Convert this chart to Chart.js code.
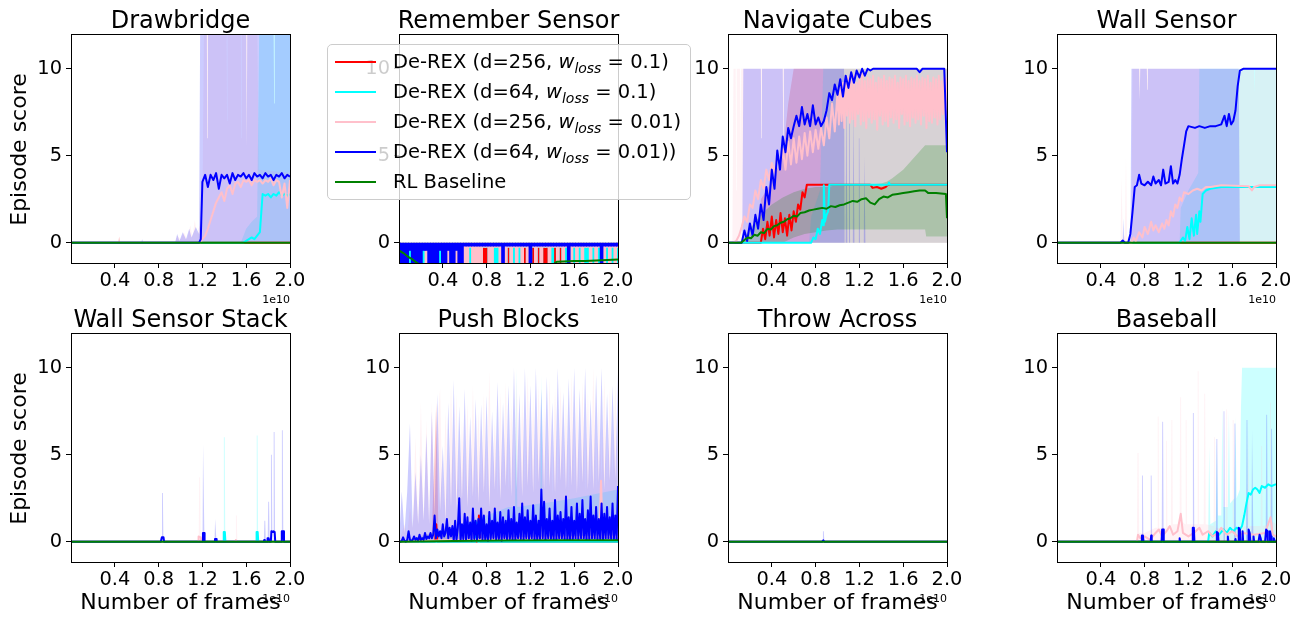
<!DOCTYPE html>
<html>
<head>
<meta charset="utf-8">
<script src="https://cdn.jsdelivr.net/npm/chart.js@4.4.0/dist/chart.umd.min.js"></script>
<style>
  html, body { margin: 0; padding: 0; background: #fff; overflow: hidden; }
  body { width: 1304px; height: 619px; position: relative; font-family: 'DejaVu Sans', sans-serif; }
  canvas { position: absolute; }
  #legend {
    position: absolute; left: 327px; top: 44px; width: 364px; height: 156px;
    box-sizing: border-box; border: 1px solid #ccc; border-radius: 5px;
    background: rgba(255, 255, 255, 0.8); z-index: 10;
    font-size: 19.5px; color: #000;
  }
  #legend .row { position: absolute; left: 0; height: 30px; line-height: 30px; white-space: nowrap; }
  #legend .key { position: absolute; left: 7px; top: 14px; width: 41px; height: 2px; }
  #legend .lbl { position: absolute; left: 65px; }
  #legend i { font-style: italic; }
  #legend sub { font-style: italic; font-size: 14px; vertical-align: -5px; line-height: 0; }
</style>
</head>
<body>
<div id="legend">
  <div class="row" style="top:2px"><span class="key" style="background:#ff0000"></span><span class="lbl">De-REX (d=256, <i>w</i><sub>loss</sub> = 0.1)</span></div>
  <div class="row" style="top:32px"><span class="key" style="background:#00ffff"></span><span class="lbl">De-REX (d=64, <i>w</i><sub>loss</sub> = 0.1)</span></div>
  <div class="row" style="top:62px"><span class="key" style="background:#ffc0cb"></span><span class="lbl">De-REX (d=256, <i>w</i><sub>loss</sub> = 0.01)</span></div>
  <div class="row" style="top:92px"><span class="key" style="background:#0000ff"></span><span class="lbl">De-REX (d=64, <i>w</i><sub>loss</sub> = 0.01))</span></div>
  <div class="row" style="top:122px"><span class="key" style="background:#008000"></span><span class="lbl">RL Baseline</span></div>
</div>
<script>
const FONT = "'DejaVu Sans', sans-serif";
const STEP = 0.025;   // spacing of the dense value lists, in units of 1e10 frames
const FINE = 0.0125;  // spacing for the noisiest stretches

// dense lists start at x0 and advance by a fixed step
function run(x0, ys, step = STEP) {
  return ys.map((y, i) => [+(x0 + i * step).toFixed(4), y]);
}

const xTicks = [0.4, 0.8, 1.2, 1.6, 2.0];
const yTicks = [0, 5, 10];
const Y_MIN = -1.17, Y_MAX = 12;

const RED = '#ff0000', CYAN = '#00ffff', PINK = '#ffc0cb', BLUE = '#0000ff', GREEN = '#008000';

const flat = [[0, 0], [2, 0]];

// ---- Drawbridge
const dbRedBand = [[0,0],[0.43,0],[0.44,0.35],[0.45,0],[2,0]];
const dbCyanRise = [0.1,0.2,0.3,0.2,0.4,0.6,2.8,2.7,2.8,2.6,2.8,2.7,2.9,2.7,2.8,2.7,2.8];
const dbCyanMean = [[0,0],[1.575,0], ...run(1.6, dbCyanRise)];
const dbCyanBand = [[0,0],[1.55,0],[1.6,0.8],[1.65,1.2],[1.7,1.5],[1.72,13],[2,13]];
const dbPinkRise = [0.2,0.4,0.8,1.3,1.8,2.3,2.6,2.9,2.4,3.1,3.3,2.8,3.4,3.5,3.2,3.6,3.5,3.6,3.3,3.6,3.5,3.6,3.4,3.6,3.5,3.7,3.3,3.6,3.5,2.6,3.4,2.0,3.6];
const dbPinkMean = [[0,0],[1.18,0], ...run(1.2, dbPinkRise)];
const dbPinkBand = [[0,0],[0.43,0],[0.44,0.35],[0.45,0],[0.95,0],[0.97,0.4],[1.0,0.2],[1.03,0.6],[1.06,0.2],[1.09,1.0],[1.11,0.3],[1.13,1.3],[1.15,0.5],[1.17,0.9],[1.2,1.2],[1.215,13],[1.42,13],[1.425,7],[1.43,13],[1.55,13],[1.555,6],[1.56,13],[1.7,13],[1.715,4.2],[2,4.0]];
const dbBlueFlat = [3.5,3.9,3.2,3.9,3.6,4.0,3.1,3.9,3.7,3.9,3.4,4.0,3.6,3.9,3.8,4.0,3.7,3.9,3.6,4.0,3.8,3.9,3.7,4.0,3.8,3.9,3.6,3.9,3.8,4.0,3.7,3.9,3.8];
const dbBlueMean = [[0,0],[1.17,0],[1.185,0.2], ...run(1.2, dbBlueFlat)];
const dbBlueBand = [[0,0],[0.64,0],[0.65,0.2],[0.66,0],[0.95,0],[0.97,0.5],[0.99,0.1],[1.02,0.6],[1.05,0.2],[1.08,0.8],[1.1,0.3],[1.14,0.9],[1.17,0.5],[1.18,13],[1.24,13],[1.245,6],[1.25,13],[1.6,13],[1.605,5.5],[1.61,13],[1.85,13],[1.855,8],[1.86,13],[2,13]];

// ---- Remember Sensor (all scores at or below zero, one column per STEP)
const L = -1.3, T = -0.27, H = -0.2, M = -0.45;
const rsRedY = [
  L,L,L,L,L,L,L,L,L,L, L,L,L,L,L,L,L,L,L,L,
  L,L,L,L,L,L,L,L,L,L, L,L,L,L,L,L,L,L,L,L,
  L,L,L,L,L,L,L,L,L,L, L,L,L,L,L,L,L,L,L,L,
  L,L,L,L,L,L,L,L,L,L, L,L,L,L,L,L,L,L,L,L, L];
const rsCyanY = [
  L,L,L,L,L,L,L,L,L,L, L,L,L,L,L,L,L,L,L,L,
  L,L,L,L,L,L,L,L,L,L, L,T,T,L,L,L,L,L,L,L,
  T,L,L,L,L,L,T,L,L,T, L,T,L,T,T,L,L,T,L,T,
  L,L,L,L,L,L,L,L,L,L, L,L,L,L,L,L,L,L,L,L, L];
const rsPinkY = [
  T,T,T,T,T,T,T,T,T,T, L,T,T,T,T,T,T,T,L,T,
  T,L,T,T,L,L,T,L,L,L, L,T,T,L,L,T,T,L,T,L,
  T,L,T,L,T,L,T,L,T,T, L,T,L,T,T,L,T,T,L,T,
  L,T,T,L,T,L,T,L,T,T, L,T,L,T,T,L,T,L,T,L, T];
const rsBlueY = [
  L,L,L,L,M,L,L,L,L,M, M,L,L,L,L,M,L,L,M,L,
  L,M,L,L,H,H,H,H,H,H, H,H,H,H,H,H,H,H,L,H,
  H,H,H,H,H,H,H,H,L,H, H,H,H,H,H,H,H,H,H,H,
  H,H,L,H,H,H,H,H,H,H, H,H,H,H,L,H,H,H,H,H, H];
const rsGreenMean = [[0,-0.45],[0.04,-0.6],[0.08,-0.8],[0.12,-0.95],[0.16,-1.15],[0.2,-1.3],[1.4,-1.3],[1.44,-1.1],[1.5,-1.08],[1.6,-1.05],[1.7,-1.06],[1.8,-1.02],[1.9,-1.0],[2.0,-0.97]];

// ---- Navigate Cubes
const ncRedMean = [[0,0],[0.3,0],[0.32,0.8],[0.34,0.2],[0.36,1.2],[0.38,0.4],[0.4,1.5],[0.42,0.3],[0.44,1.3],[0.46,0.5],[0.48,1.7],[0.5,0.6],[0.52,1.4],[0.54,0.4],[0.56,1.6],[0.58,0.7],[0.6,1.8],[0.62,1.2],[0.64,2.2],[0.66,1.9],[0.68,2.9],[0.7,2.6],[0.72,3.33],[1.3,3.33],[1.32,3.15],[1.36,3.2],[1.4,3.1],[1.44,3.2],[1.46,3.33],[2,3.33]];
const ncRedBand = [[0,0],[0.29,0],[0.3,2.5],[0.4,3.5],[0.5,5],[0.55,8],[0.6,10],[2,10]];
const ncCyanMean = [[0,0],[0.76,0],[0.78,0.3],[0.8,0.2],[0.82,0.8],[0.84,0.5],[0.86,1.3],[0.87,1.0],[0.875,3.3],[0.885,1.2],[0.9,1.6],[0.915,1.8],[0.925,3.33],[1.46,3.33],[1.47,3.45],[1.48,3.33],[2,3.33]];
const ncCyanBand = [[0,0],[0.74,0],[0.76,1.5],[0.84,3],[0.87,10],[2,10]];
const ncPinkEarly = [
  0,0,0,0.1,0.4,0.9,1.5,1.2,2.2,2.0, 3.0,2.5,3.6,3.1,4.2,3.6,4.6,4.0,5.0,4.3,
  5.4,4.2,5.8,4.5,6.0,4.6,6.1,4.8,6.3,5.0, 6.4,5.2,6.5,5.4,6.6,5.6,7.2,6.0,8.0,6.4,
  8.6];
const ncPinkLate = [
  6.8,9.0,7.0,9.2,6.6,9.4,7.3,9.5,6.9,9.3, 7.1,9.6,6.7,9.2,7.4,9.5,6.8,9.7,7.0,9.3,
  6.6,9.5,7.2,9.4,6.9,9.6,7.1,9.2,6.5,9.5, 7.3,9.4,6.8,9.6,7.0,9.3,6.7,9.5,7.2,9.4,
  6.9,9.6,7.1,9.2,6.6,9.5,7.4,9.4,6.8,9.6, 7.0,9.3,6.7,9.5,7.2,9.4,6.9,9.6,7.1,9.3,
  6.8,9.5,7.3,9.4,6.6,9.6,7.0,9.2,6.9,9.5, 7.2,9.4,6.8,9.6,7.1,9.3,7.4,9.5,7.0,9.5];
const ncPinkMean = [...run(0, ncPinkEarly), ...run(1.0125, ncPinkLate, FINE)];
const ncPinkBand = [[0,0],[0.04,0],[0.05,10],[0.07,10],[0.075,3],[0.08,10],[0.11,10],[0.115,5],[0.12,10],[2,10]];
const ncBlueY = [
  0,0,0,0,0,0,0.7,0.1,1.1,0.4, 1.6,0.8,2.2,1.3,3.2,2.2,4.2,3.1,5.3,4.2,
  6.1,5.2,6.6,6.0,6.7,7.3,6.7,7.8,6.8,7.4, 6.7,7.9,6.8,7.2,6.7,7.0,7.6,8.6,8.2,9.1,
  8.5,9.4,8.4,9.6,8.9,9.8,9.2,9.9,9.5,10, 9.6,10,9.9,10,10,10,10,10,10,10,
  10,10,10,10,10,10,10,10,10,10, 9.8,10,10,10,10,10,10,10,10,10, 5.2];
const ncBlueBand = [[0,0],[0.13,0],[0.14,10],[0.3,10],[0.305,6],[0.31,10],[0.5,10],[0.505,6],[0.51,10],[1.06,10],[1.065,0],[1.075,0],[1.08,10],[1.085,10],[1.09,0],[1.1,0],[1.105,9],[1.11,9],[1.115,0],[1.14,0],[1.145,8],[1.15,8],[1.155,0],[1.19,0],[1.195,6],[1.2,6],[1.205,0],[1.24,0],[1.245,5],[1.25,5],[1.255,0],[2,0]];
const ncGreenMean = [[0,0],[0.12,0],[0.15,0.15],[0.18,0.3],[0.21,0.25],[0.24,0.45],[0.27,0.4],[0.3,0.6],[0.33,0.55],[0.36,0.8],[0.39,0.75],[0.42,0.95],[0.45,1.0],[0.48,1.15],[0.51,1.2],[0.54,1.35],[0.57,1.4],[0.6,1.55],[0.63,1.5],[0.66,1.7],[0.7,1.75],[0.74,1.85],[0.78,1.9],[0.82,1.95],[0.86,2.0],[0.9,1.95],[0.94,2.1],[0.98,2.05],[1.02,2.15],[1.06,2.2],[1.1,2.3],[1.14,2.4],[1.18,2.35],[1.22,2.5],[1.26,2.55],[1.3,2.3],[1.34,2.2],[1.38,2.5],[1.42,2.65],[1.46,2.6],[1.5,2.75],[1.55,2.8],[1.6,2.85],[1.65,2.9],[1.7,2.95],[1.75,3.0],[1.8,3.0],[1.83,2.85],[1.9,2.85],[1.99,2.8],[2.0,1.4]];
const ncGreenLow = [[0,0],[0.5,0],[0.6,0.3],[0.7,0.5],[0.8,0.6],[0.9,0.7],[1.0,0.75],[1.8,0.75],[1.81,0.35],[2.0,0.35]];
const ncGreenHigh = [[0,0],[0.12,0],[0.2,0.8],[0.3,1.6],[0.4,2.2],[0.5,2.6],[0.6,2.9],[0.7,3.1],[0.8,3.2],[0.9,3.2],[1.0,3.3],[1.2,3.3],[1.4,3.4],[1.45,3.5],[1.5,3.7],[1.6,4.2],[1.7,4.9],[1.8,5.6],[2.0,5.6]];

// ---- Wall Sensor
const wsCyanMean = [[0,0],[1.12,0],[1.15,0.3],[1.17,0.1],[1.19,0.9],[1.21,0.2],[1.23,1.4],[1.25,0.4],[1.27,1.6],[1.28,0.5],[1.3,1.8],[1.31,1.2],[1.33,2.8],[1.36,3.0],[1.4,3.1],[1.5,3.2],[2,3.2]];
const wsCyanBand = [[0,0],[1.12,0],[1.13,2],[1.2,3],[1.29,4],[1.3,10],[2,10]];
const wsPinkMean = [[0,0],[0.68,0],[0.7,0.3],[0.72,0.1],[0.75,0.6],[0.78,0.3],[0.8,0.9],[0.83,0.5],[0.86,1.2],[0.88,0.7],[0.9,1.0],[0.93,0.6],[0.96,1.1],[0.98,0.8],[1.0,1.3],[1.02,1.0],[1.04,1.8],[1.06,1.5],[1.08,2.2],[1.1,2.0],[1.12,2.6],[1.14,2.4],[1.16,2.9],[1.2,2.8],[1.24,3.0],[1.28,3.1],[1.32,3.0],[1.36,3.2],[1.4,3.2],[1.5,3.3],[1.75,3.25],[1.78,3.0],[1.8,3.2],[1.85,3.3],[2,3.3]];
const wsPinkBand = [[0,0],[0.58,0],[0.59,3.8],[0.6,0.2],[0.62,0.5],[0.63,4.9],[0.64,0.3],[0.68,0.4],[0.69,10],[1.8,10],[1.805,8.6],[1.81,10],[2,10]];
const wsBlueMean = [[0,0],[0.58,0],[0.6,0.12],[0.62,0],[0.65,0],[0.67,0.5],[0.69,1.8],[0.71,3.2],[0.73,3.3],[0.75,3.9],[0.77,3.4],[0.8,3.3],[0.83,3.5],[0.86,3.3],[0.88,3.8],[0.9,3.4],[0.93,3.6],[0.95,3.3],[0.97,4.2],[0.99,3.4],[1.02,3.5],[1.04,4.4],[1.06,3.4],[1.08,3.6],[1.1,3.4],[1.12,3.9],[1.14,4.8],[1.16,5.6],[1.18,6.4],[1.2,6.7],[1.26,6.6],[1.3,6.7],[1.35,6.6],[1.4,6.7],[1.45,6.7],[1.5,6.8],[1.53,7.3],[1.55,6.7],[1.57,7.4],[1.59,6.8],[1.61,7.0],[1.63,7.6],[1.65,9.0],[1.67,9.9],[1.7,10],[2,10]];
const wsBlueBand = [[0,0],[0.6,0],[0.605,1.4],[0.615,0],[0.67,0],[0.68,10],[0.75,10],[0.755,8.2],[0.76,10],[0.82,10],[0.825,8.8],[0.83,10],[1.66,10],[1.67,0],[2,0]];

// ---- Wall Sensor Stack
const wssCyanMean = [[0,0],[1.39,0],[1.395,0.55],[1.405,0.55],[1.41,0],[1.69,0],[1.695,0.55],[1.705,0.55],[1.71,0],[2,0]];
const wssCyanBand = [[0,0],[1.391,0],[1.396,6.0],[1.404,6.0],[1.409,0],[1.691,0],[1.696,6.1],[1.704,6.1],[1.709,0],[2,0]];
const wssPinkMean = [[0,0],[1.16,0],[1.165,0.3],[1.185,0.25],[1.19,0],[1.5,0],[1.505,0.1],[1.51,0],[2,0]];
const wssPinkBand = [[0,0],[1.166,0],[1.171,3.7],[1.179,3.7],[1.184,0],[1.501,0],[1.506,1.5],[1.514,1.5],[1.519,0],[2,0]];
const wssBlueMean = [[0,0],[0.82,0],[0.83,0.25],[0.845,0.25],[0.85,0],[1.2,0],[1.205,0.5],[1.215,0.5],[1.22,0],[1.31,0],[1.315,0.15],[1.325,0.15],[1.33,0],[1.76,0],[1.765,0.1],[1.77,0],[1.79,0],[1.795,0.2],[1.805,0.2],[1.81,0],[1.825,0],[1.83,0.6],[1.845,0.55],[1.85,0.6],[1.86,0.55],[1.865,0],[1.92,0],[1.925,0.6],[1.94,0.6],[1.945,0],[2,0]];
const wssBlueBand = [[0,0],[0.826,0],[0.831,2.8],[0.839,2.8],[0.844,0],[1.201,0],[1.206,5.6],[1.214,5.6],[1.219,0],[1.311,0],[1.316,1.3],[1.324,1.3],[1.329,0],[1.761,0],[1.766,1.2],[1.774,1.2],[1.779,0],[1.796,0],[1.801,2.3],[1.809,2.3],[1.814,0],[1.821,0],[1.826,5.0],[1.834,5.0],[1.839,0],[1.846,0],[1.851,6.3],[1.859,6.3],[1.864,0],[1.921,0],[1.926,6.4],[1.934,6.4],[1.939,0],[2,0]];

// ---- Push Blocks
const pbRedMean = [[0,0],[0.18,0],[0.19,0.25],[0.2,0],[0.33,0],[0.34,1.0],[0.35,0],[0.72,0],[0.73,1.5],[0.74,0],[2,0]];
const pbRedBand = [[0,0],[0.3,0.5],[0.34,8.0],[0.36,0.5],[0.72,1.0],[0.73,1.6],[0.75,1.0],[2,1.0]];
const pbCyanMean = [[0,0],[0.7,0],[0.71,1.1],[0.72,0],[2,0]];
const pbCyanBand = [[0,0],[0.5,0.8],[0.8,1.5],[1.0,2.0],[1.06,2.0],[1.07,10],[1.08,2.0],[1.29,2.2],[1.3,9.6],[1.31,2.2],[1.6,2.5],[2,3.0]];
const pbPinkMean = [[0,0],[0.5,0.1],[1.0,0.2],[1.83,0.3],[1.845,3.5],[1.86,0.3],[2,0.3]];
const pbPinkY = [
  0,0.5,1.0,0.4,2.0,0.8,6.0,1.0,8.0,1.2, 7.0,1.5,8.0,1.8,6.5,8.8,1.5,7.5,1.8,9.0,
  2.4,8.5,2.1,7.0,2.7,8.0,2.3,9.0,2.4,7.5, 3.0,8.5,2.5,9.8,3.0,7.0,2.7,8.6,3.1,9.2,
  2.9,8.0,3.3,9.4,2.8,8.2,3.0,9.6,3.2,8.4, 2.9,9.0,3.4,7.8,3.0,9.4,2.6,8.8,3.1,9.0,
  3.5,8.0,2.9,9.6,3.2,8.4,3.0,9.2,2.8,8.6, 3.3,10,3.0,8.0,3.5,9.4,3.1,8.8,3.6,9.0, 3.0];
const pbBlueY = [
  0,0,0.05,0.25,0.05,0,0.1,0.6,0.1,0.05, 0.1,0.3,0.1,0.2,0.05,0.4,0.1,0.2,0.1,0.5,
  0.15,0.3,0.2,0.5,0.2,0.4,1.5,0.2,0.7,0.3, 0.6,0.2,1.0,0.3,0.5,1.3,0.2,0.8,0.3,0.9,
  0.05,1.2,0.1,0.8,2.5,0.05,1.0,0.15,1.6,0.1, 1.4,0.2,1.1,0.05,1.9,0.15,1.2,0.1,1.3,0.2,
  1.9,0.1,1.5,0.1,1.0,0.05,1.7,0.15,1.2,0.2, 1.9,0.1,1.1,0.15,1.7,0.05,1.4,0.2,1.2,0.1,
  1.8,0.15,1.3,0.1,2.0,0.1,1.1,0.2,1.6,0.15, 2.2,0.1,1.4,0.2,1.8,0.15,1.2,0.2,2.1,0.1,
  1.5,0.1,1.2,0.15,3.0,0.2,2.3,0.1,1.3,0.2, 1.9,0.15,1.2,0.1,2.4,0.1,1.5,0.2,1.7,0.2,
  1.3,0.15,2.6,0.1,1.4,0.1,2.0,0.15,1.2,0.2, 2.2,0.15,1.6,0.2,2.4,0.2,1.3,0.1,1.8,0.15,
  2.6,0.2,1.5,0.2,2.0,0.15,1.3,0.15,2.2,0.1, 1.6,0.2,2.0,0.2,1.4,0.15,2.2,0.15,1.5,0.1, 3.2];
const pbBlueBandY = [
  0,2.9,0.5,2.9,6.8,0.8,4.0,1.0,5.0,1.2, 6.2,1.0,7.5,1.5,8.5,1.8,5.5,1.2,8.0,2.0,
  9.3,1.8,7.8,2.4,8.8,2.0,7.2,2.6,8.2,2.2, 7.9,2.8,8.4,2.0,7.5,3.0,9.2,2.4,8.0,3.2,
  9.0,2.6,10,3.0,8.5,2.6,10,3.2,9.0,2.8, 10,3.4,8.8,3.0,9.5,3.2,8.0,2.8,10,3.5,
  8.6,3.0,9.4,3.2,10,2.8,8.8,3.4,10,3.0, 8.2,3.0,9.6,3.4,10,3.0,8.5,3.5,9.0,3.6, 9.8];
const pbGreenMean = [[0,0],[0.5,0.04],[1.0,0.07],[1.5,0.08],[2.0,0.08]];

// ---- Throw Across
const taBlueMean = [[0,0],[0.86,0],[0.87,0.08],[0.88,0],[2,0]];
const taBlueBand = [[0,0],[0.862,0],[0.867,0.6],[0.875,0.6],[0.88,0],[2,0]];

// ---- Baseball
const bbCyanMean = [[0,0],[1.38,0],[1.39,0.5],[1.42,0.3],[1.45,0.6],[1.48,0.4],[1.52,0.7],[1.55,0.5],[1.58,0.8],[1.61,0.6],[1.64,0.8],[1.67,0.7],[1.69,0.9],[1.71,1.5],[1.73,2.2],[1.75,2.8],[1.77,2.7],[1.79,3.0],[1.81,3.1],[1.83,3.0],[1.85,2.8],[1.87,3.2],[1.9,3.1],[1.93,3.3],[1.96,3.2],[2,3.3]];
const bbCyanBand = [[0,0],[1.38,0],[1.39,5.5],[1.4,1.0],[1.45,1.2],[1.46,6.0],[1.47,1.5],[1.5,1.5],[1.51,7.8],[1.52,2.0],[1.56,2.0],[1.57,7.5],[1.58,2.2],[1.62,2.5],[1.63,7.2],[1.64,2.5],[1.67,3.0],[1.68,7.7],[1.69,10],[2,10]];
const bbPinkMean = [[0,0],[0.73,0],[0.74,0.4],[0.76,0.2],[0.8,0.3],[0.85,0.1],[0.9,0.5],[0.93,0.7],[0.96,0.3],[1.0,0.6],[1.03,0.9],[1.06,0.4],[1.1,0.6],[1.13,1.6],[1.15,0.5],[1.2,0.3],[1.25,0.5],[1.3,0.8],[1.33,0.4],[1.38,0.6],[1.42,0.3],[1.47,0.5],[1.5,0.8],[1.55,0.4],[1.6,0.6],[1.65,0.3],[1.7,0.5],[1.8,0.4],[1.9,0.5],[1.95,1.4],[1.97,0.4],[2,0.3]];
const bbPinkBand = [[0,0],[0.73,0],[0.735,5.1],[0.745,5.1],[0.75,0.5],[0.8,0.5],[0.9,0.8],[0.915,0.8],[0.92,7.2],[0.928,7.2],[0.933,0.8],[0.99,0.8],[0.995,5.8],[1.003,5.8],[1.008,0.9],[1.04,0.9],[1.045,7.0],[1.053,7.0],[1.058,1.0],[1.12,1.0],[1.125,8.3],[1.133,8.3],[1.138,1.2],[1.17,1.0],[1.175,7.0],[1.183,7.0],[1.188,1.0],[1.28,1.0],[1.285,9.8],[1.293,9.8],[1.298,1.0],[1.34,1.0],[1.345,8.5],[1.353,8.5],[1.358,1.0],[1.43,0.9],[1.435,6.0],[1.443,6.0],[1.448,0.8],[1.54,0.8],[1.545,7.6],[1.553,7.6],[1.558,0.8],[1.6,0.8],[1.605,7.0],[1.613,7.0],[1.618,0.8],[1.74,0.9],[1.745,6.8],[1.753,6.8],[1.758,0.9],[1.86,0.9],[1.865,5.5],[1.873,5.5],[1.878,0.9],[1.94,1.0],[1.945,8.0],[1.953,8.0],[1.958,1.2],[2,1.0]];
const bbBlueMean = [[0,0],[0.77,0],[0.775,0.35],[0.785,0.35],[0.79,0],[0.855,0],[0.86,0.35],[0.865,0],[0.955,0],[0.96,0.7],[0.97,0.7],[0.975,0],[1.115,0],[1.12,0.2],[1.125,0],[1.235,0],[1.24,0.8],[1.25,0.8],[1.255,0],[1.455,0],[1.46,0.55],[1.47,0.5],[1.475,0],[1.555,0],[1.56,0.3],[1.565,0],[1.625,0],[1.63,0.15],[1.635,0],[1.655,0],[1.66,0.8],[1.67,0.7],[1.675,0],[1.69,0],[1.695,0.6],[1.7,0],[1.745,0],[1.75,0.7],[1.76,0.5],[1.765,0],[1.79,0],[1.795,0.3],[1.8,0],[1.84,0],[1.85,0.4],[1.86,0.2],[1.865,0],[1.9,0],[1.91,0.7],[1.92,0.6],[1.925,0],[1.94,0],[1.945,0.6],[1.955,0.3],[1.96,0],[1.975,0],[1.98,0.2],[1.99,0],[2,0]];
const bbBlueBand = [[0,0],[0.771,0],[0.776,3.8],[0.784,3.8],[0.789,0],[0.851,0],[0.856,3.8],[0.864,3.8],[0.869,0],[0.956,0],[0.961,6.9],[0.969,6.9],[0.974,0],[1.236,0],[1.241,7.4],[1.249,7.4],[1.254,0],[1.451,0],[1.456,5.9],[1.464,5.9],[1.469,0],[1.516,0],[1.521,7.5],[1.529,7.5],[1.534,0],[1.616,0],[1.621,6.8],[1.629,6.8],[1.634,0],[1.726,0],[1.731,7.0],[1.739,7.0],[1.744,0],[1.776,0],[1.781,6.5],[1.789,6.5],[1.794,0],[1.906,0],[1.911,7.3],[1.919,7.3],[1.924,0],[1.951,0],[1.956,6.5],[1.964,6.5],[1.969,0],[2,0]];

// plot layout: chart area lefts / tops in page pixels
const colLeft = [71, 399, 728, 1057];
const rowTop = [34, 333];

const plots = [
  { title: 'Drawbridge', row: 0, col: 0, series: [
    { color: RED, mean: flat, band: dbRedBand },
    { color: CYAN, mean: dbCyanMean, band: dbCyanBand },
    { color: PINK, mean: dbPinkMean, band: dbPinkBand },
    { color: BLUE, mean: dbBlueMean, band: dbBlueBand },
    { color: GREEN, mean: flat }]},
  { title: 'Remember Sensor', row: 0, col: 1, series: [
    { color: RED, bars: run(0, rsRedY) },
    { color: CYAN, bars: run(0, rsCyanY) },
    { color: PINK, bars: run(0, rsPinkY) },
    { color: BLUE, bars: run(0, rsBlueY) },
    { color: GREEN, mean: rsGreenMean }]},
  { title: 'Navigate Cubes', row: 0, col: 2, series: [
    { color: RED, mean: ncRedMean, band: ncRedBand },
    { color: CYAN, mean: ncCyanMean, band: ncCyanBand },
    { color: PINK, mean: ncPinkMean, band: ncPinkBand },
    { color: BLUE, mean: run(0, ncBlueY), band: ncBlueBand },
    { color: GREEN, mean: ncGreenMean, band: ncGreenHigh, bandLow: ncGreenLow }]},
  { title: 'Wall Sensor', row: 0, col: 3, series: [
    { color: RED, mean: flat },
    { color: CYAN, mean: wsCyanMean, band: wsCyanBand },
    { color: PINK, mean: wsPinkMean, band: wsPinkBand },
    { color: BLUE, mean: wsBlueMean, band: wsBlueBand },
    { color: GREEN, mean: flat }]},
  { title: 'Wall Sensor Stack', row: 1, col: 0, series: [
    { color: RED, mean: flat },
    { color: CYAN, mean: wssCyanMean, band: wssCyanBand },
    { color: PINK, mean: wssPinkMean, band: wssPinkBand },
    { color: BLUE, mean: wssBlueMean, band: wssBlueBand },
    { color: GREEN, mean: flat }]},
  { title: 'Push Blocks', row: 1, col: 1, series: [
    { color: RED, mean: pbRedMean, band: pbRedBand },
    { color: CYAN, mean: pbCyanMean, band: pbCyanBand },
    { color: PINK, mean: pbPinkMean, band: run(0, pbPinkY) },
    { color: BLUE, mean: run(0, pbBlueY, FINE), band: run(0, pbBlueBandY) },
    { color: GREEN, mean: pbGreenMean }]},
  { title: 'Throw Across', row: 1, col: 2, series: [
    { color: RED, mean: flat },
    { color: CYAN, mean: flat },
    { color: PINK, mean: flat },
    { color: BLUE, mean: taBlueMean, band: taBlueBand },
    { color: GREEN, mean: flat }]},
  { title: 'Baseball', row: 1, col: 3, series: [
    { color: RED, mean: flat },
    { color: CYAN, mean: bbCyanMean, band: bbCyanBand },
    { color: PINK, mean: bbPinkMean, band: bbPinkBand },
    { color: BLUE, mean: bbBlueMean, band: bbBlueBand },
    { color: GREEN, mean: flat }]}
];

function fade(hex, a) {
  const n = parseInt(hex.slice(1), 16);
  return `rgba(${n >> 16}, ${(n >> 8) & 255}, ${n & 255}, ${a})`;
}
const toXY = list => list.map(([x, y]) => ({ x, y }));
const NONE = 'rgba(0,0,0,0)';

// frame, titles, offset text and axis labels in matplotlib style
const decor = {
  id: 'decor',
  afterDraw(chart, args, o) {
    const { ctx, chartArea: a } = chart;
    const cx = (a.left + a.right) / 2;
    ctx.save();
    ctx.strokeStyle = '#000';
    ctx.lineWidth = 1;
    ctx.strokeRect(a.left + 0.5, a.top + 0.5, a.width, a.height);
    ctx.fillStyle = '#000';
    ctx.textBaseline = 'alphabetic';
    ctx.textAlign = 'center';
    ctx.font = `24px ${FONT}`;
    ctx.fillText(o.title, cx, a.top - 6);
    if (o.xLabel) {
      ctx.font = `22px ${FONT}`;
      ctx.fillText('Number of frames', cx, a.bottom + 47);
    }
    ctx.textAlign = 'right';
    ctx.font = `11px ${FONT}`;
    ctx.fillText('1e10', a.right, a.bottom + 40);
    if (o.yLabel) {
      ctx.translate(20, (a.top + a.bottom) / 2 + 1);
      ctx.rotate(-Math.PI / 2);
      ctx.textAlign = 'center';
      ctx.textBaseline = 'middle';
      ctx.font = `22px ${FONT}`;
      ctx.fillText('Episode score', 0, 0);
    }
    ctx.restore();
  }
};

const CW = 318, CH = 320;

plots.forEach(p => {
  const canvas = document.createElement('canvas');
  canvas.width = CW; canvas.height = CH;
  canvas.style.width = CW + 'px'; canvas.style.height = CH + 'px';
  canvas.style.left = (colLeft[p.col] - 71) + 'px';
  canvas.style.top = (rowTop[p.row] - 34) + 'px';
  document.body.appendChild(canvas);

  // shaded bands go under every line, as fill_between does in matplotlib
  const datasets = [];
  p.series.forEach(s => {
    if (!s.band) return;
    if (s.bandLow) {
      datasets.push({ data: toXY(s.bandLow), borderColor: NONE, borderWidth: 0, fill: false });
    }
    datasets.push({ data: toXY(s.band), borderColor: NONE, borderWidth: 0,
      backgroundColor: fade(s.color, 0.2), fill: s.bandLow ? '-1' : 'origin' });
  });
  p.series.forEach(s => {
    if (s.bars) {
      // densely packed negative scores read as solid columns hanging from zero
      datasets.push({ type: 'bar', data: toXY(s.bars), backgroundColor: s.color,
        borderWidth: 0, grouped: false, barThickness: 3 });
    } else {
      datasets.push({ data: toXY(s.mean), borderColor: s.color, borderWidth: 2, fill: false });
    }
  });
  // first dataset at the back
  datasets.forEach((d, i) => { d.order = datasets.length - i; d.clip = 0; d.pointRadius = 0; });

  const axisFont = { family: FONT, size: 19.4 };
  new Chart(canvas, {
    type: 'line',
    data: { datasets },
    plugins: [decor],
    options: {
      animation: false,
      responsive: false,
      devicePixelRatio: 1,
      layout: { padding: { left: 16, top: 34, right: 28, bottom: 12 } },
      elements: { line: { tension: 0, borderJoinStyle: 'round' }, point: { radius: 0 } },
      plugins: {
        legend: { display: false },
        tooltip: { enabled: false },
        decor: { title: p.title, yLabel: p.col === 0, xLabel: p.row === 1 }
      },
      scales: {
        x: {
          type: 'linear', min: 0, max: 2, offset: false,
          afterBuildTicks: ax => { ax.ticks = xTicks.map(v => ({ value: v })); },
          afterFit: ax => { ax.height = 45; },
          ticks: { autoSkip: false, maxRotation: 0, padding: 1, color: '#000', font: axisFont,
            callback: v => v.toFixed(1) },
          grid: { drawOnChartArea: false, tickLength: 5, color: '#000', offset: false },
          border: { display: false }
        },
        y: {
          type: 'linear', min: Y_MIN, max: Y_MAX,
          afterBuildTicks: ax => { ax.ticks = yTicks.map(v => ({ value: v })); },
          afterFit: ax => { ax.width = 55; },
          ticks: { padding: 4, color: '#000', font: axisFont, callback: v => String(v) },
          grid: { drawOnChartArea: false, tickLength: 5, color: '#000' },
          border: { display: false }
        }
      }
    }
  });
});
</script>
</body>
</html>
